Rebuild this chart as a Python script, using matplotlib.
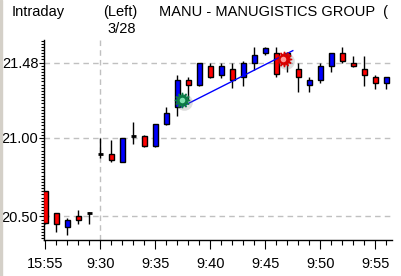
import matplotlib
matplotlib.use("Agg")
import matplotlib.pyplot as plt
from matplotlib.patches import Rectangle
from matplotlib.ticker import FixedLocator, MultipleLocator, NullFormatter

# minute bars: last 5 of previous day, then the morning
times = ["15:55", "15:56", "15:57", "15:58", "15:59",
         "9:30", "9:31", "9:32", "9:33", "9:34", "9:35", "9:36", "9:37", "9:38", "9:39",
         "9:40", "9:41", "9:42", "9:43", "9:44", "9:45", "9:46", "9:47", "9:48", "9:49",
         "9:50", "9:51", "9:52", "9:53", "9:54", "9:55", "9:56"]
opens  = [20.66, 20.52, 20.43, 20.50, 20.52, 20.90, 20.90, 20.85, 21.01, 21.01, 20.95,
          21.09, 21.20, 21.37, 21.34, 21.46, 21.40, 21.44, 21.39, 21.48, 21.54, 21.54,
          21.54, 21.44, 21.34, 21.37, 21.46, 21.54, 21.48, 21.44, 21.39, 21.35]
highs  = [20.66, 20.52, 20.49, 20.54, 20.53, 21.00, 20.99, 21.00, 21.10, 21.02, 21.09,
          21.20, 21.40, 21.39, 21.48, 21.48, 21.48, 21.48, 21.49, 21.58, 21.58, 21.58,
          21.55, 21.48, 21.39, 21.48, 21.54, 21.58, 21.52, 21.52, 21.40, 21.39]
lows   = [20.45, 20.40, 20.38, 20.45, 20.45, 20.87, 20.85, 20.85, 20.96, 20.94, 20.94,
          21.08, 21.14, 21.24, 21.33, 21.38, 21.38, 21.32, 21.33, 21.43, 21.53, 21.39,
          21.42, 21.29, 21.29, 21.35, 21.42, 21.48, 21.45, 21.33, 21.31, 21.31]
closes = [20.46, 20.45, 20.48, 20.48, 20.52, 20.90, 20.86, 21.00, 21.01, 20.95, 21.09,
          21.16, 21.37, 21.34, 21.48, 21.39, 21.46, 21.37, 21.48, 21.53, 21.57, 21.41,
          21.52, 21.39, 21.37, 21.46, 21.54, 21.49, 21.46, 21.40, 21.35, 21.39]

label_times = ["15:55", "9:30", "9:35", "9:40", "9:45", "9:50", "9:55"]
price_ticks = [20.50, 21.00, 21.48]

trend_x = [12.36, 22.5]
trend_y = [21.197, 21.556]
start_pt = (12.45, 21.24)
end_pt = (21.67, 21.50)

W, H = 401, 276
fig = plt.figure(figsize=(W / 100, H / 100), dpi=100)
fig.patch.set_facecolor("white")
ax = fig.add_axes([44 / W, 1 - 240 / H, (392 - 44) / W, 200 / H])

font = ["Liberation Sans", "DejaVu Sans"]
fs = 10.5

idx = list(range(len(times)))
up_c, dn_c = "#0000ff", "#ff0000"

# grid
for p in price_ticks:
    ax.axhline(p, color="#c0c0c0", lw=1, ls=(0, (4, 3)), zorder=0)
ax.axvline(times.index("9:30"), color="#c0c0c0", lw=1, ls=(0, (4, 3)), zorder=0)

# candles
ax.vlines(idx, lows, highs, color="black", lw=1, zorder=2)
for i in idx:
    o, c = opens[i], closes[i]
    if abs(o - c) < 0.005:
        ax.hlines(o, i - 0.23, i + 0.23, color="black", lw=2, zorder=3)
    else:
        col = up_c if c > o else dn_c
        ax.bar(i, abs(c - o), bottom=min(o, c), width=0.42, color=col,
               edgecolor="black", linewidth=1, zorder=3)

# trend line + markers
ax.plot(trend_x, trend_y, color="#0000ff", lw=1, zorder=4)
for (px, py), fc, hc in [(start_pt, "#0b7a45", "#7fe0b0"), (end_pt, "#d80000", "#ff9a9a")]:
    ax.plot(px + 0.2, py - 0.012, "o", ms=12, color="#808080", alpha=0.25, mec="none", zorder=5)
    ax.plot(px, py, marker=(12, 1, 0), ms=11, color=fc, mec=fc, zorder=6)
    ax.plot(px - 0.05, py + 0.004, "o", ms=4, color=hc, mec="none", zorder=7)

ax.set_xlim(-0.12, 31.52)
ax.set_ylim(20.350, 21.624)

ax.spines["top"].set_visible(False)
ax.spines["right"].set_visible(False)
for s in ("left", "bottom"):
    ax.spines[s].set_linewidth(1)
    ax.spines[s].set_color("black")

ax.xaxis.set_major_locator(FixedLocator([times.index(t) for t in label_times]))
ax.set_xticklabels(label_times)
ax.xaxis.set_minor_locator(MultipleLocator(1))
ax.yaxis.set_major_locator(FixedLocator(price_ticks))
ax.set_yticklabels(["%.2f" % p for p in price_ticks])
ax.yaxis.set_minor_locator(MultipleLocator(0.02))
ax.yaxis.set_minor_formatter(NullFormatter())

ax.tick_params(axis="x", which="major", length=6.5, width=0.8, pad=6, labelsize=fs, direction="out")
ax.tick_params(axis="x", which="minor", length=3.6, width=0.8, direction="out")
ax.tick_params(axis="y", which="major", length=3.5, width=0.8, pad=0.5, labelsize=fs, direction="out")
ax.tick_params(axis="y", which="minor", length=2.2, width=0.8, direction="out")
for lab in ax.get_xticklabels() + ax.get_yticklabels():
    lab.set_family(font)

# header texts
def ftext(x, y, s):
    fig.text(x / W, 1 - y / H, s, fontsize=fs, family=font, va="baseline", ha="left")

ftext(12, 16, "Intraday")
ftext(103, 16, "(Left)")
ftext(107, 33, "3/28")
ftext(159, 16, "MANU - MANUGISTICS GROUP  (")

# window border at left
fig.patches.append(Rectangle((0, 0), 2 / W, 1, transform=fig.transFigure,
                             color="#d4d0c8", zorder=10))

fig.savefig("out.png", dpi=100)
